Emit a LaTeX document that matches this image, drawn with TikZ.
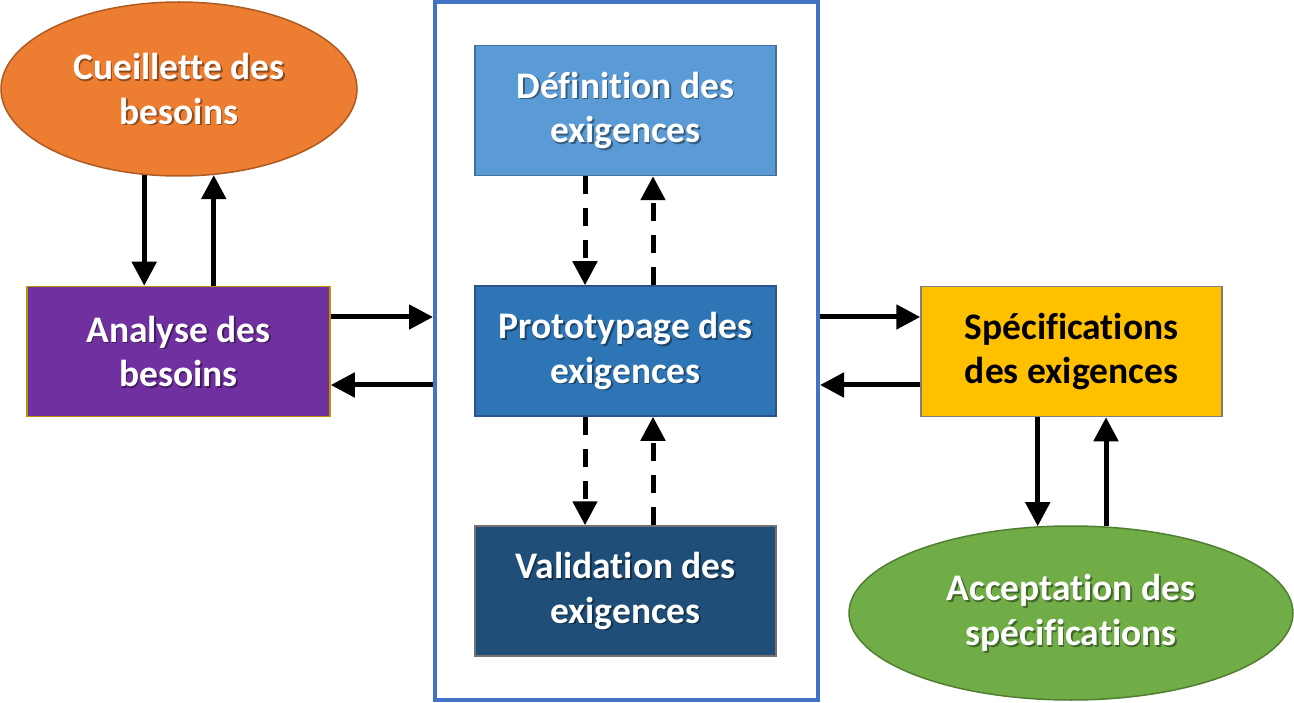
\documentclass[tikz,border=0pt]{standalone}
\usepackage{fontspec}
\setmainfont{Carlito}[Ligatures=NoCommon]
\usetikzlibrary{shapes.geometric,arrows.meta}

\definecolor{cueFill}{HTML}{ED7D31}\definecolor{cueLine}{HTML}{AE5A21}
\definecolor{anaFill}{HTML}{7030A0}\definecolor{anaLine}{HTML}{BF9000}
\definecolor{defFill}{HTML}{5B9BD5}\definecolor{defLine}{HTML}{41719C}
\definecolor{proFill}{HTML}{2E75B6}\definecolor{proLine}{HTML}{2F528F}
\definecolor{valFill}{HTML}{1F4E79}\definecolor{valLine}{HTML}{767171}
\definecolor{speFill}{HTML}{FFC000}\definecolor{speLine}{HTML}{7F7F7F}
\definecolor{accFill}{HTML}{70AD47}\definecolor{accLine}{HTML}{507E32}
\definecolor{frameBlue}{HTML}{4472C4}

\tikzset{
  lbl/.style={font=\fontsize{37.5}{44.5}\selectfont\bfseries, align=center, text=white},
  boxnode/.style={rectangle, minimum width=301pt, minimum height=130pt,
    line width=1.5pt, inner sep=0pt, lbl},
  ovalnode/.style={ellipse, line width=1.5pt, inner sep=0pt, lbl},
  txtshadow/.style={path picture={
    \node[lbl, text=black, text opacity=0.4]
      at ([xshift=1.6pt,yshift=-1.6pt]path picture bounding box.center) {#1};}},
  arr/.style={line width=5pt, -{Triangle[width=24pt,length=24pt]}},
  dasharr/.style={arr, dash pattern=on 18pt off 14pt},
}

% a shape with its label and a soft drop shadow under the label
\newcommand\labelnode[4]{\node[#1, txtshadow={#4}] (#2) at (#3) {#4};}

\begin{document}
\begin{tikzpicture}[x=1pt,y=-1pt]
  \useasboundingbox (0,0) rectangle (1294,703);

  % frame around the prototyping loop
  \node[draw=frameBlue, line width=4pt, minimum width=383pt, minimum height=698pt,
        inner sep=0pt] (frame) at (626.5,351) {};

  % needs side
  \labelnode{ovalnode, fill=cueFill, draw=cueLine, minimum width=356pt, minimum height=174pt}
    {cue}{179,89}{Cueillette des\\besoins}
  \labelnode{boxnode, fill=anaFill, draw=anaLine, minimum width=303pt}
    {ana}{178.5,351.5}{Analyse des\\besoins}

  % prototyping loop
  \labelnode{boxnode, fill=defFill, draw=defLine}{def}{625.5,110.5}{Définition des\\exigences}
  \labelnode{boxnode, fill=proFill, draw=proLine}{pro}{625.5,351}{Prototypage des\\exigences}
  \labelnode{boxnode, fill=valFill, draw=valLine}{val}{625.5,591}{Validation des\\exigences}

  % specification side
  \node[boxnode, fill=speFill, draw=speLine, text=black] (spe) at (1071.5,351.5)
    {Spécifications\\des exigences};
  \labelnode{ovalnode, fill=accFill, draw=accLine, minimum width=444pt, minimum height=174pt}
    {acc}{1071,613}{Acceptation des\\spécifications}

  % needs gathering <-> analysis
  \draw[arr] (cue.248) -- (cue.248 |- ana.north);
  \draw[arr] (cue.292 |- ana.north) -- (cue.292);

  % analysis <-> prototyping frame
  \draw[arr] ([yshift=34.5pt]ana.east) -- ([yshift=34.5pt]ana.east -| frame.west);
  \draw[arr] ([yshift=-33.5pt]ana.east -| frame.west) -- ([yshift=-33.5pt]ana.east);

  % dashed loop inside the frame
  \draw[dasharr] ([xshift=-40.5pt]def.south) -- ([xshift=-40.5pt]pro.north);
  \draw[dasharr] ([xshift=27.5pt]pro.north) -- ([xshift=27.5pt]def.south);
  \draw[dasharr] ([xshift=-40.5pt]pro.south) -- ([xshift=-40.5pt]val.north);
  \draw[dasharr] ([xshift=27.5pt]val.north) -- ([xshift=27.5pt]pro.south);

  % prototyping frame <-> specification
  \draw[arr] ([yshift=34.5pt]spe.west -| frame.east) -- ([yshift=34.5pt]spe.west);
  \draw[arr] ([yshift=-33.5pt]spe.west) -- ([yshift=-33.5pt]spe.west -| frame.east);

  % specification <-> acceptance
  \draw[arr] (acc.111 |- spe.south) -- (acc.111);
  \draw[arr] (acc.68) -- (acc.68 |- spe.south);
\end{tikzpicture}
\end{document}
